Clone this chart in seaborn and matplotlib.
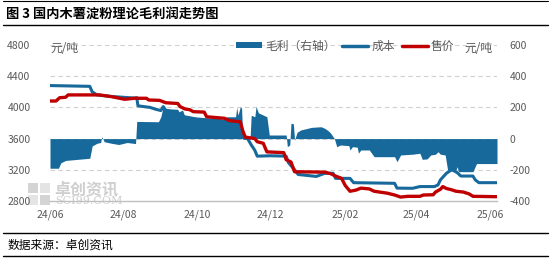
import matplotlib
matplotlib.use("Agg")
import matplotlib.pyplot as plt
import seaborn as sns
import pandas as pd
from matplotlib.patches import Patch, Rectangle
from matplotlib.lines import Line2D

# ---------------- data ----------------
cost_dates = ["2024-06-01", "2024-07-04", "2024-07-06", "2024-07-10", "2024-07-22", "2024-08-10",
              "2024-08-12", "2024-08-13", "2024-08-23", "2024-08-28", "2024-09-01", "2024-09-03",
              "2024-09-05", "2024-09-13", "2024-09-17", "2024-10-01", "2024-10-21", "2024-11-06",
              "2024-11-12", "2024-11-15", "2024-11-18", "2024-11-20", "2024-12-01", "2024-12-14",
              "2024-12-16", "2024-12-21", "2024-12-24", "2025-01-08", "2025-01-15", "2025-01-22",
              "2025-01-24", "2025-02-05", "2025-02-08", "2025-03-01", "2025-03-14", "2025-03-16",
              "2025-03-29", "2025-04-04", "2025-04-16", "2025-04-19", "2025-04-21", "2025-04-26",
              "2025-04-30", "2025-05-02", "2025-05-05", "2025-05-08", "2025-05-18", "2025-05-20",
              "2025-05-23", "2025-06-07"]
cost = [4280, 4270, 4200, 4160, 4140, 4120,
        4125, 4020, 4000, 3975, 3960, 4010,
        3965, 3935, 3890, 3850, 3830, 3620,
        3600, 3520, 3450, 3375, 3380, 3375,
        3290, 3200, 3140, 3115, 3155, 3155,
        3090, 3090, 3035, 3030, 3027, 2965,
        2963, 2985, 2985, 3005, 3070, 3155,
        3197, 3190, 3163, 3120, 3120, 3070,
        3035, 3035]

price_dates = ["2024-06-01", "2024-06-06", "2024-06-09", "2024-06-14", "2024-06-16", "2024-07-12",
               "2024-07-22", "2024-08-02", "2024-08-10", "2024-08-20", "2024-08-22", "2024-08-31",
               "2024-09-05", "2024-09-15", "2024-09-17", "2024-09-21", "2024-09-25", "2024-09-28",
               "2024-10-07", "2024-10-09", "2024-10-24", "2024-10-28", "2024-11-06", "2024-11-08",
               "2024-11-10", "2024-11-18", "2024-11-20", "2024-11-25", "2024-11-28", "2024-12-12",
               "2024-12-14", "2024-12-18", "2024-12-21", "2025-01-15", "2025-01-20", "2025-01-24",
               "2025-01-29", "2025-02-01", "2025-02-05", "2025-02-10", "2025-02-14", "2025-02-21",
               "2025-02-25", "2025-03-08", "2025-03-14", "2025-03-19", "2025-03-25", "2025-04-04",
               "2025-04-07", "2025-04-15", "2025-04-17", "2025-04-21", "2025-04-23", "2025-04-26",
               "2025-04-30", "2025-05-04", "2025-05-10", "2025-05-15", "2025-05-18", "2025-06-07"]
price = [4082, 4082, 4124, 4130, 4160, 4160,
         4138, 4104, 4117, 4117, 4095, 4090,
         4060, 4050, 4010, 3980, 3970, 3945,
         3940, 3880, 3860, 3830, 3815, 3700,
         3620, 3600, 3560, 3540, 3430, 3420,
         3330, 3300, 3175, 3170, 3150, 3120,
         3090, 3000, 2925, 2940, 2965, 2955,
         2925, 2900, 2877, 2850, 2860, 2860,
         2877, 2880, 2915, 2950, 2985, 2960,
         2945, 2925, 2915, 2890, 2860, 2855]

profit_dates = ["2024-06-01", "2024-06-08", "2024-06-10", "2024-06-14", "2024-07-04", "2024-07-06",
                "2024-07-10", "2024-07-13", "2024-07-14", "2024-07-16", "2024-07-22", "2024-07-28",
                "2024-08-04", "2024-08-11", "2024-08-12", "2024-08-30", "2024-09-01", "2024-09-03",
                "2024-09-05", "2024-09-15", "2024-09-16", "2024-09-19", "2024-09-21", "2024-10-05",
                "2024-10-07", "2024-10-21", "2024-10-26", "2024-11-02", "2024-11-03", "2024-11-04",
                "2024-11-06", "2024-11-07", "2024-11-08", "2024-11-14", "2024-11-15", "2024-11-18",
                "2024-11-19", "2024-11-21", "2024-11-28", "2024-11-30", "2024-12-14", "2024-12-15",
                "2024-12-17", "2024-12-18", "2024-12-20", "2024-12-21", "2024-12-23", "2024-12-26",
                "2025-01-04", "2025-01-12", "2025-01-15", "2025-01-18", "2025-01-20", "2025-01-23",
                "2025-01-25", "2025-01-28", "2025-02-04", "2025-02-05", "2025-02-07", "2025-02-11",
                "2025-02-12", "2025-02-14", "2025-02-21", "2025-02-25", "2025-03-14", "2025-03-16",
                "2025-03-19", "2025-03-29", "2025-04-04", "2025-04-06", "2025-04-10", "2025-04-13",
                "2025-04-17", "2025-04-19", "2025-04-21", "2025-04-25", "2025-04-27", "2025-05-04",
                "2025-05-05", "2025-05-06", "2025-05-18", "2025-05-21", "2025-06-07"]
profit = [-190, -190, -155, -140, -126, -47,
          -30, -25, 12, -20, -30, -38,
          -25, -32, 110, 108, 140, 210,
          192, 188, 172, 183, 140, 135,
          119, 118, 140, 140, 200, 150,
          205, 195, -5, -5, 150, 140,
          205, 165, 140, 23, 23, -52,
          -40, 98, 95, -10, 40, 55,
          72, 76, 66, 50, 34, 0,
          -52, -41, -45, -73, -52, -55,
          -93, -73, -73, -116, -116, -148,
          -105, -100, -94, -133, -130, -105,
          -100, -84, -100, -105, -201, -201,
          -180, -212, -212, -160, -160]

tick_dates = ["2024-06-01", "2024-08-01", "2024-10-01", "2024-12-01", "2025-02-01", "2025-04-01", "2025-06-01"]
tick_labels = ["24/06", "24/08", "24/10", "24/12", "25/02", "25/04", "25/06"]
left_ticks = [2800, 3200, 3600, 4000, 4400, 4800]
right_ticks = [-400, -200, 0, 200, 400, 600]

# ---------------- style ----------------
sns.set_style("white")
plt.rcParams["font.family"] = ["Noto Sans CJK SC", "DejaVu Sans"]
plt.rcParams["axes.unicode_minus"] = False

BLUE = "#17699b"
RED = "#c00000"
GRAY = "#595959"

df_cost = pd.DataFrame({"date": pd.to_datetime(cost_dates), "v": cost})
df_price = pd.DataFrame({"date": pd.to_datetime(price_dates), "v": price})
df_profit = pd.DataFrame({"date": pd.to_datetime(profit_dates), "v": profit})

W, H = 551, 259
fig = plt.figure(figsize=(W / 100, H / 100), dpi=100)
ax = fig.add_axes([50 / W, 1 - 201 / H, (497 - 50) / W, 156 / H])
ax2 = ax.twinx()
ax.set_zorder(2)
ax2.set_zorder(1)
ax.patch.set_visible(False)

# watermark (behind everything, in figure coords)
for (xx, yy, ww, hh, c) in [(28, 183, 10, 10, "#d4d4d4"), (40, 183, 10, 10, "#e4e4e4"),
                            (28, 195, 10, 10, "#e4e4e4"), (40, 195, 10, 10, "#d4d4d4")]:
    fig.add_artist(Rectangle((xx / W, 1 - (yy + hh) / H), ww / W, hh / H,
                             facecolor=c, edgecolor="none", transform=fig.transFigure, zorder=0))
fig.text(54 / W, 1 - 189 / H, "卓创资讯", fontsize=11.5, color="#cfcfcf", va="center", ha="left",
         fontweight="bold", zorder=0)
fig.text(55 / W, 1 - 201 / H, "SCI99.COM", fontsize=8, color="#cfcfcf", va="center", ha="left",
         family="DejaVu Serif", zorder=0)

# profit area (right axis)
ax2.fill_between(df_profit["date"], 0, df_profit["v"], color=BLUE, linewidth=0, zorder=2)
ax2.set_ylim(-400, 600)
ax2.set_yticks(right_ticks)
ax2.set_yticklabels([str(t) for t in right_ticks])
for y in [-200, 0, 200, 400, 600]:
    ax2.axhline(y, color="#d0d0d0", lw=0.8, ls=(0, (4, 3)), zorder=1)

# lines (left axis)
sns.lineplot(data=df_cost, x="date", y="v", ax=ax, color=BLUE, lw=2.2, legend=False)
sns.lineplot(data=df_price, x="date", y="v", ax=ax, color=RED, lw=2.4, legend=False)
ax.set_ylim(2800, 4800)
ax.set_yticks(left_ticks)
ax.set_xlim(pd.Timestamp("2024-06-01"), pd.Timestamp("2025-06-07"))
ax.set_xticks(pd.to_datetime(tick_dates))
ax.set_xticklabels(tick_labels)
ax.set_xlabel("")
ax.set_ylabel("")
ax2.set_ylabel("")

for a in (ax, ax2):
    for s in a.spines.values():
        s.set_visible(False)
ax.spines["bottom"].set_visible(True)
ax.spines["bottom"].set_color("#bfbfbf")
ax.spines["bottom"].set_linewidth(1.0)

ax.tick_params(axis="x", length=0, pad=6, labelsize=7.5, labelcolor=GRAY)
ax.tick_params(axis="y", length=0, pad=14, labelsize=7.5, labelcolor=GRAY)
ax2.tick_params(axis="y", length=0, pad=9, labelsize=7.5, labelcolor=GRAY)

# unit labels
fig.text(50 / W, 1 - 48 / H, "元/吨", fontsize=8.5, color=GRAY, va="center", ha="left")
fig.text(464 / W, 1 - 48 / H, "元/吨", fontsize=8.5, color=GRAY, va="center", ha="left")

# legend
handles = [Patch(facecolor=BLUE, edgecolor="none"),
           Line2D([0], [0], color=BLUE, lw=2.5),
           Line2D([0], [0], color=RED, lw=2.5)]
labels = ["毛利（右轴）", "成本", "售价"]
fig.legend(handles, labels, loc="center left", bbox_to_anchor=(230 / W, 1 - 46 / H),
           ncol=3, frameon=False, fontsize=8.5, handlelength=2.2, handleheight=0.45,
           handletextpad=0.25, columnspacing=0.6, labelcolor=GRAY, borderpad=0)

# title and frame lines
fig.text(6 / W, 1 - 14 / H, "图 3 国内木薯淀粉理论毛利润走势图", fontsize=9.5, fontweight="bold",
         color="black", va="center", ha="left")
fig.add_artist(Line2D([3 / W, 548 / W], [1 - 1 / H, 1 - 1 / H], color="black", lw=0.8))
fig.add_artist(Line2D([3 / W, 548 / W], [1 - 25 / H, 1 - 25 / H], color="black", lw=1.0))
fig.add_artist(Line2D([3 / W, 548 / W], [1 - 233 / H, 1 - 233 / H], color="black", lw=1.0))
fig.add_artist(Line2D([3 / W, 548 / W], [1 - 256 / H, 1 - 256 / H], color="black", lw=1.0))
fig.text(8 / W, 1 - 245 / H, "数据来源：卓创资讯", fontsize=8.5, color="black", va="center", ha="left")

fig.savefig("out.png", dpi=100)
